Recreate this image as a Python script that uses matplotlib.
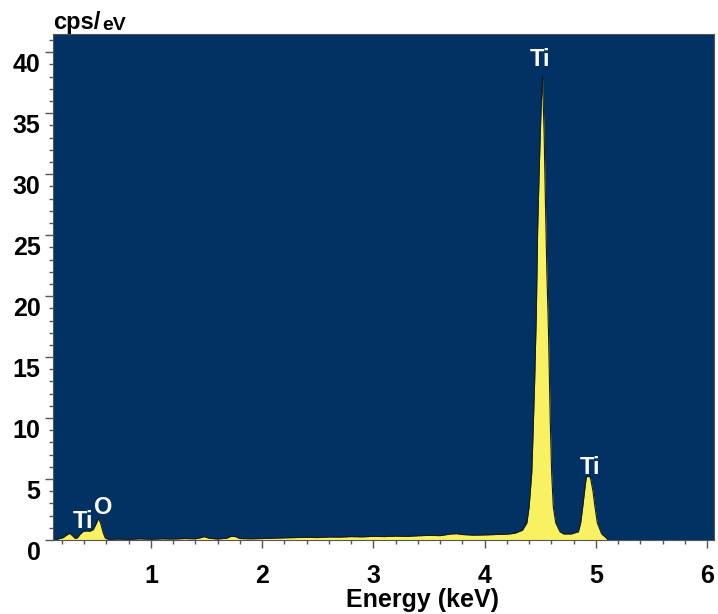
import matplotlib
matplotlib.use("Agg")
import matplotlib.pyplot as plt
import matplotlib.transforms as mtransforms
from matplotlib.ticker import MultipleLocator

# EDS spectrum: energy (keV) and counts (cps/eV)
energy = [
    0.14, 0.17, 0.21, 0.24, 0.27, 0.30, 0.32, 0.34, 0.36, 0.39,
    0.42, 0.45, 0.48, 0.50, 0.53, 0.55, 0.57, 0.59, 0.62, 0.70,
    0.80, 0.90, 1.00, 1.10, 1.20, 1.30, 1.40, 1.45, 1.48, 1.52,
    1.60, 1.68, 1.72, 1.76, 1.80, 1.90, 2.00, 2.10, 2.20, 2.30,
    2.40, 2.50, 2.60, 2.70, 2.80, 2.90, 3.00, 3.10, 3.20, 3.30,
    3.40, 3.50, 3.60, 3.70, 3.75, 3.80, 3.90, 4.00, 4.10, 4.20,
    4.27, 4.34, 4.38, 4.40, 4.424, 4.435, 4.45, 4.465, 4.477, 4.49,
    4.505, 4.52, 4.535, 4.548, 4.56, 4.575, 4.59, 4.603, 4.618, 4.64,
    4.678, 4.71, 4.78, 4.843, 4.864, 4.882, 4.90, 4.915, 4.95, 4.973,
    4.993, 5.014, 5.053, 5.098, 5.11,
]
counts = [
    0.00, 0.10, 0.20, 0.40, 0.55, 0.30, 0.12, 0.20, 0.45, 0.70,
    0.75, 0.72, 0.85, 1.20, 1.80, 1.30, 0.60, 0.15, 0.05, 0.08,
    0.05, 0.10, 0.06, 0.10, 0.08, 0.12, 0.10, 0.20, 0.28, 0.15,
    0.08, 0.15, 0.30, 0.28, 0.12, 0.10, 0.12, 0.15, 0.18, 0.20,
    0.22, 0.20, 0.25, 0.24, 0.28, 0.26, 0.30, 0.28, 0.32, 0.30,
    0.35, 0.38, 0.36, 0.50, 0.52, 0.45, 0.40, 0.42, 0.45, 0.48,
    0.55, 0.80, 1.40, 2.70, 5.50, 8.50, 13.0, 18.5, 25.4, 30.0,
    34.5, 38.1, 33.5, 27.3, 22.0, 17.0, 10.0, 5.50, 2.70, 1.40,
    0.68, 0.50, 0.50, 0.68, 1.40, 2.70, 4.10, 5.20, 5.20, 4.10,
    2.70, 1.40, 0.50, 0.14, 0.00,
]

# peak labels: (text, energy, baseline value)
peak_labels = [("Ti", 4.50, 38.9), ("Ti", 4.95, 5.4), ("Ti", 0.39, 0.98), ("O", 0.57, 2.13)]

x_ticks = [1, 2, 3, 4, 5, 6]
y_ticks = [0, 5, 10, 15, 20, 25, 30, 35, 40]

plt.rcParams['font.family'] = ['Liberation Sans', 'DejaVu Sans']
plt.rcParams['font.weight'] = 'bold'

fig = plt.figure(figsize=(7.18, 6.14), dpi=100)
ax = fig.add_axes([53 / 718, 1 - 540 / 614, 661 / 718, 506 / 614])
ax.set_facecolor('#023263')

ax.fill_between(energy, counts, 0, color='#f8f262', linewidth=0)
ax.plot(energy, counts, color='#1a1a1a', linewidth=0.8)

for txt, ex, ey in peak_labels:
    ax.text(ex, ey, txt, color='white', fontsize=17, fontweight='bold',
            ha='center', va='baseline')

ax.set_xlim(0.119, 6.063)
ax.set_ylim(0, 41.5)
ax.set_xticks(x_ticks)
ax.set_yticks(y_ticks)
ax.xaxis.set_minor_locator(MultipleLocator(0.2))
ax.yaxis.set_minor_locator(MultipleLocator(1))
ax.tick_params(which='both', direction='out', color='#555555', width=1)
ax.tick_params(which='major', length=6, labelsize=18)
ax.tick_params(which='minor', length=3)
ax.tick_params(axis='x', which='major', pad=11)
ax.tick_params(axis='y', which='major', pad=3)

# the y labels sit a little below their ticks in the original
shift = mtransforms.ScaledTranslation(0, -0.125, fig.dpi_scale_trans)
for lab in ax.get_yticklabels():
    lab.set_verticalalignment('center')
    lab.set_transform(lab.get_transform() + shift)

for sp in ax.spines.values():
    sp.set_color('#555555')
    sp.set_linewidth(0.8)

t1 = fig.text(53 / 718, 1 - 29 / 614, "cps/", fontsize=17, fontweight='bold',
              ha='left', va='baseline')
ax.annotate("eV", xy=(1, 0), xycoords=t1, xytext=(1, 0), textcoords='offset points',
            fontsize=14, fontweight='bold', ha='left', va='bottom')
fig.text(422 / 718, 1 - 600 / 614, "Energy (keV)", fontsize=18, fontweight='bold',
         ha='center', va='center')

fig.savefig("out.png", dpi=100)
